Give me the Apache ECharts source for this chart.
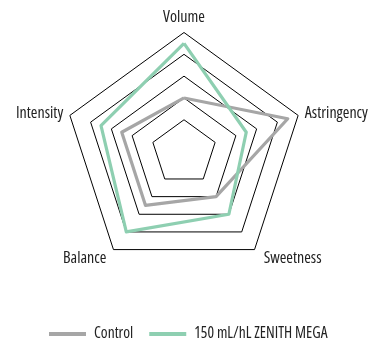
<!DOCTYPE html>
<html>
<head>
<meta charset="utf-8">
<style>
  html, body { margin: 0; padding: 0; background: #ffffff; }
  #chart { width: 375px; height: 339px; }
</style>
<script src="https://cdn.jsdelivr.net/npm/echarts@6/dist/echarts.min.js"></script>
</head>
<body>
<div id="chart"></div>
<script>
// Sensory attributes, listed clockwise from the top
const attributes = ['Volume', 'Astringency', 'Sweetness', 'Balance', 'Intensity'];
// Scores per attribute (same order as attributes)
const controlScores = [5, 10, 5, 6, 6];
const zenithScores = [10, 6, 7, 9, 8];
const seriesNames = ['Control', '150 mL/hL ZENITH MEGA'];
const seriesColors = ['#a6a6a6', '#8ecfb1'];

// Scale: 0..11 in steps of 1; rings are shown only at 3, 5, 7, 9, 11
const scaleMin = 0;
const scaleMax = 11;
const ringVisible = [false, false, false, true, false, true, false, true, false, true, false, true];

// ECharts lays indicators out counter-clockwise, so walk the list backwards after the first
const order = [0].concat(attributes.slice(1).map((_, i) => attributes.length - 1 - i));
const pick = arr => order.map(i => arr[i]);

const ringColors = ringVisible.map(v => (v ? '#000000' : 'rgba(0,0,0,0)'));
// Open Sans in its condensed width (font-stretch goes through the weight slot of the font shorthand)
const textBase = {
  fontFamily: '"Open Sans", sans-serif',
  fontStyle: 'normal',
  fontWeight: 'condensed',
  color: '#222222'
};
// The two lower names sit a little further out from their corners
const nameStyles = {
  Sweetness: 'lowRight',
  Balance: 'lowLeft'
};

const chart = echarts.init(document.getElementById('chart'), null, { renderer: 'canvas' });

chart.setOption({
  animation: false,
  backgroundColor: '#ffffff',
  color: seriesColors,
  legend: {
    data: seriesNames,
    top: 321,
    left: 44,
    icon: 'rect',
    itemWidth: 37,
    itemHeight: 4,
    itemGap: 16,
    textStyle: Object.assign({}, textBase, { fontSize: 15.5, padding: [0, 0, 0, 3] })
  },
  radar: {
    center: [184, 152.5],
    radius: 120,
    startAngle: 90,
    shape: 'polygon',
    splitNumber: scaleMax - scaleMin,
    indicator: pick(attributes).map(name => ({ name: name, min: scaleMin, max: scaleMax })),
    axisName: Object.assign({}, textBase, {
      fontSize: 16,
      formatter: name => (nameStyles[name] ? '{' + nameStyles[name] + '|' + name + '}' : name),
      rich: {
        lowRight: Object.assign({}, textBase, { fontSize: 16, padding: [7, 0, 0, 5] }),
        lowLeft: Object.assign({}, textBase, { fontSize: 16, padding: [7, 3, 0, 0] })
      }
    }),
    nameGap: 7,
    axisLine: { show: false },
    axisTick: { show: false },
    axisLabel: { show: false },
    splitArea: { show: false },
    splitLine: { show: true, lineStyle: { color: ringColors, width: 1 } }
  },
  series: [{
    type: 'radar',
    symbol: 'none',
    data: [
      { name: seriesNames[0], value: pick(controlScores),
        lineStyle: { color: seriesColors[0], width: 3.2 }, itemStyle: { color: seriesColors[0] } },
      { name: seriesNames[1], value: pick(zenithScores),
        lineStyle: { color: seriesColors[1], width: 3.2 }, itemStyle: { color: seriesColors[1] } }
    ]
  }]
});
</script>
</body>
</html>
